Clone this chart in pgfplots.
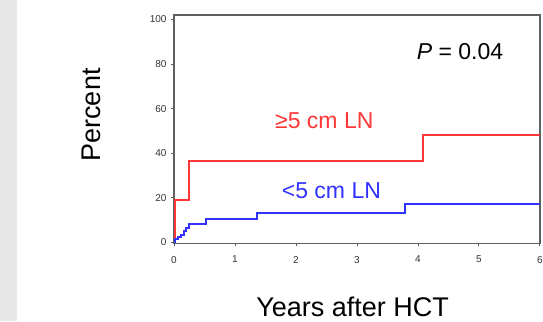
\documentclass[border=0pt]{standalone}
\usepackage{pgfplots}
\pgfplotsset{compat=1.18}
\usepackage{fontspec}
\setmainfont{Liberation Sans}
\definecolor{kmred}{RGB}{255,55,55}
\definecolor{kmblue}{RGB}{50,50,255}
\definecolor{axgray}{RGB}{95,95,95}
\begin{document}
\begin{tikzpicture}[x=1pt,y=1pt]
\clip (0,0) rectangle (543,321);
\fill[white] (0,0) rectangle (543,321);
\fill[black!9] (0,0) rectangle (17,321);
\begin{axis}[
  at={(174pt,77.5pt)}, anchor=south west,
  scale only axis, width=366pt, height=228.5pt,
  xmin=0, xmax=6, ymin=-0.5, ymax=102,
  xtick={0,1,2,3,4,5,6}, ytick={0,20,40,60,80,100},
  xtick pos=left, ytick pos=left,
  tick align=outside, major tick length=3pt,
  axis line style={draw=axgray, line width=1.8pt},
  every tick/.style={draw=axgray, line width=1pt},
  tick label style={font=\fontsize{10}{12}\selectfont, text=black!80},
  /pgf/number format/assume math mode=true,
  xticklabel style={yshift=-6pt},
  yticklabel style={xshift=-1pt},
  clip=false,
]
\addplot[const plot, color=kmred, line width=2pt] coordinates {
  (0,0) (0.02,18.8) (0.25,36.7) (4.08,48.2) (6,48.2)
};
\addplot[const plot, color=kmblue, line width=2pt] coordinates {
  (0,0) (0.02,1.5) (0.06,2.5) (0.12,3.5) (0.16,5) (0.2,6.5) (0.24,8.2)
  (0.52,10.5) (1.36,13.2) (3.78,17.3) (6,17.3)
};
\end{axis}
\node[rotate=90, anchor=base, inner sep=0] at (100,206) {\fontsize{27}{30}\selectfont Percent};
\node[anchor=base, inner sep=0] at (352.7,4.5) {\fontsize{27}{30}\selectfont Years after HCT};
\node[anchor=base west, inner sep=0] at (416.7,261) {\fontsize{23}{26}\selectfont \textit{P} = 0.04};
\node[anchor=base west, inner sep=0, text=kmred] at (275,192.7) {\fontsize{23}{26}\selectfont ≥5 cm LN};
\node[anchor=base west, inner sep=0, text=kmblue] at (281.7,122) {\fontsize{23}{26}\selectfont <5 cm LN};
\end{tikzpicture}
\end{document}
